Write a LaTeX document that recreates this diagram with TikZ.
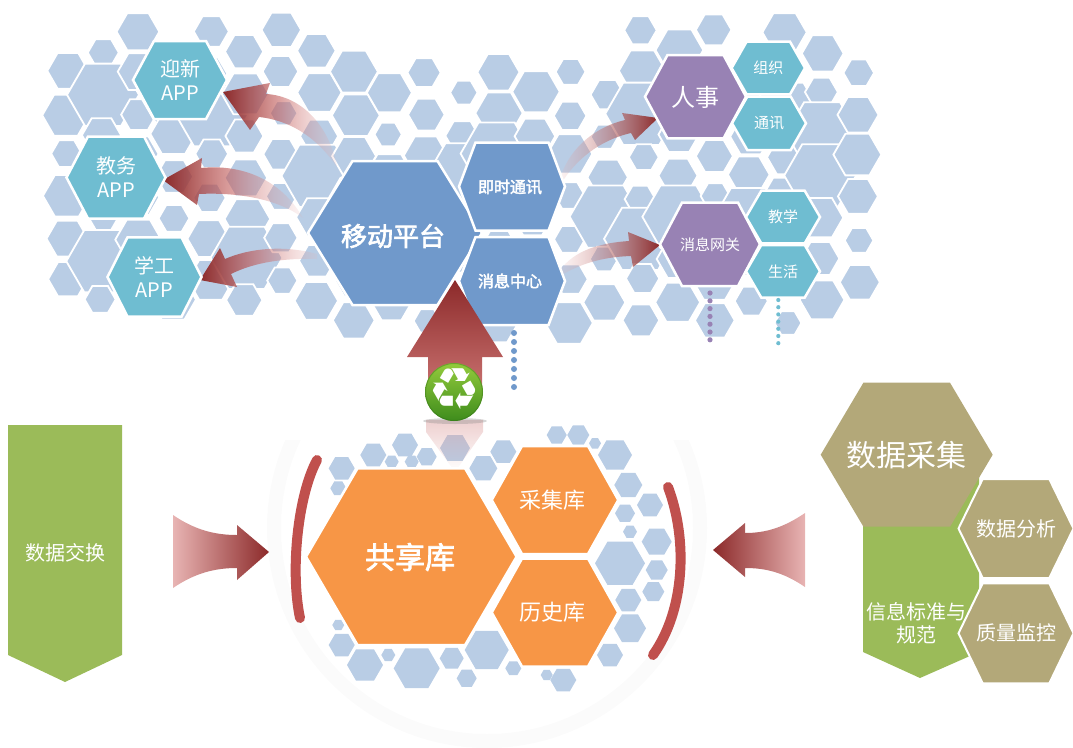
\documentclass[tikz,border=0pt]{standalone}
\usepackage{fontspec}
\setmainfont{Noto Sans CJK SC}[AutoFakeBold=2.5]
\newfontfamily\symbolfont{DejaVu Sans}
\usetikzlibrary{fadings}

\definecolor{bghexc}{HTML}{B9CDE5}
\definecolor{tealc}{HTML}{6FBDD1}
\definecolor{bluec}{HTML}{7099CB}
\definecolor{purplec}{HTML}{9882B4}
\definecolor{orangec}{HTML}{F79646}
\definecolor{greenc}{HTML}{9BBB59}
\definecolor{khakic}{HTML}{B3A879}
\definecolor{arrowdark}{HTML}{8C2A2A}
\definecolor{arrowmid}{HTML}{C45E5C}
\definecolor{arrowlight}{HTML}{E8B4B3}
\definecolor{bracketc}{HTML}{C0504D}
\definecolor{iconlight}{HTML}{93CB3C}
\definecolor{icondark}{HTML}{3E8C1C}

\tikzfading[name=fadeeast, left color=transparent!0, middle color=transparent!15, right color=transparent!85]
\tikzfading[name=fadewest, left color=transparent!85, middle color=transparent!15, right color=transparent!0]
\tikzfading[name=fadesouth, top color=transparent!30, bottom color=transparent!100]

% hexagon: style, centre x, centre y, half width, half top edge, half height
\newcommand\hexshape[6]{\filldraw[#1] (#2+#4,#3) -- (#2+#5,#3+#6) -- (#2-#5,#3+#6) -- (#2-#4,#3) -- (#2-#5,#3-#6) -- (#2+#5,#3-#6) -- cycle;}

\begin{document}
\begin{tikzpicture}[x=1pt,y=-1pt,
  bghex/.style={fill=bghexc, draw=white, line width=1.8pt},
  fg/.style={draw=white, line width=2.5pt},
  lbl/.style={text=white, align=center, inner sep=0pt},
  arrowbody/.style={left color=arrowdark, right color=arrowlight, middle color=arrowmid}]
\useasboundingbox (0,0) rectangle (1073,747);

% faint ring round the lower cluster
\begin{scope}
  \clip (250,440) rectangle (720,747);
  \draw[black!1.5, line width=14pt] (487,528) circle [radius=213];
\end{scope}

% honeycomb field behind the upper cluster
\pgfmathsetseed{20}
\foreach \i in {0,...,24}{
  \foreach \j in {0,...,8}{
    \pgfmathsetmacro\hx{30+36*\i+4*(rnd-0.5)}
    \pgfmathsetmacro\hy{10+41.6*\j+20.8*mod(\i,2)+4*(rnd-0.5)}
    \pgfmathsetmacro\ea{pow(abs(\hx-205)/162,4)+pow(abs(\hy-168)/152,4)}
    \pgfmathsetmacro\eb{pow(abs(\hx-732)/136,4)+pow(abs(\hy-178)/158,4)}
    \pgfmathsetmacro\ec{pow(abs(\hx-470)/175,4)+pow(abs(\hy-192)/136,4)}
    \pgfmathsetmacro\envmin{min(\ea,\eb,\ec)}
    \pgfmathsetmacro\pick{rnd}
    \pgfmathsetmacro\rr{(\pick<0.14)&&(\envmin<0.4) ? 36 : 24*(0.55+0.45*rnd)}
    \ifdim\envmin pt<1pt
      \filldraw[bghex, shift={(\hx,\hy)}] (0:\rr) -- (60:\rr) -- (120:\rr) -- (180:\rr) -- (240:\rr) -- (300:\rr) -- cycle;
    \fi
  }
}

% honeycomb round the lower cluster
\foreach \hx/\hy/\rr in {341.7/468.3/13, 338.3/488.3/8, 373.3/455/13, 405/445/13, 391.7/461.7/7,
  411.7/461.7/7, 426.7/456.7/10, 483.3/468.3/14, 503.3/451.7/13, 556.7/435/10, 578.3/435/11,
  595/443.3/6, 615/455/17, 628.3/485/14, 625/513.3/10, 650/505/13, 630/531.7/7, 620/563.3/25,
  656.7/541.7/15, 656.7/570/11, 653.3/591.7/11, 628.3/600/13, 630/628.3/16, 610/655/13,
  563.3/680/13, 546.7/675/6, 513.3/668.3/8, 486.7/650/22, 466.7/678.3/10, 451.7/658.3/12,
  416.7/668.3/23, 388.3/655/7, 365/665/18, 341.7/645/13, 338.3/625/6, 455/448/15}{
  \fill[fill=bghexc, shift={(\hx,\hy)}] (0:\rr) -- (60:\rr) -- (120:\rr) -- (180:\rr) -- (240:\rr) -- (300:\rr) -- cycle;
}

% mirrored arrow head under the recycling badge
\fill[arrowmid!60!white, opacity=0.7, path fading=fadesouth] (426,420) -- (483,420) -- (483,432) -- (455,472) -- (426,432) -- cycle;

% curved arrows from the mobile platform to the apps
\shade[arrowbody, path fading=fadeeast] (337,167) .. controls (320,142) and (295,121) .. (259,117) -- (250,130) -- (223,92) -- (270,83) -- (266,94) .. controls (303,96) and (330,128) .. (337,167) -- cycle;
\shade[arrowbody, path fading=fadeeast] (303,218) .. controls (280,200) and (240,192) .. (199,194) -- (197,205) -- (163,180) -- (202,158) -- (201,168) .. controls (240,164) and (280,178) .. (303,218) -- cycle;
\shade[arrowbody, path fading=fadeeast] (317,259) .. controls (285,258) and (255,262) .. (231,274) -- (237,287) -- (200,280) -- (220,248) -- (225,259) .. controls (250,248) and (285,245) .. (317,254) -- cycle;
% curved arrows to the gateways on the right
\shade[left color=arrowlight, middle color=arrowmid, right color=arrowdark, path fading=fadewest] (558,187) .. controls (565,150) and (595,127) .. (625,120) -- (622,113) -- (658,118) -- (635,140) -- (631,133) .. controls (600,140) and (575,160) .. (561,184) -- cycle;
\shade[left color=arrowlight, middle color=arrowmid, right color=arrowdark, path fading=fadewest] (560,270) .. controls (575,250) and (600,243) .. (629,241) -- (628,232) -- (660,245) -- (633,267) -- (631,256) .. controls (600,257) and (578,265) .. (560,276) -- cycle;

% upper cluster
\hexshape{fg, fill=tealc}{180}{80}{47}{26}{39}
\node[lbl, font=\fontsize{20}{24}\selectfont] (yx) at (180,80) {迎新\\APP};
\hexshape{fg, fill=tealc}{116}{177.5}{49.5}{28}{41}
\node[lbl, font=\fontsize{20}{24}\selectfont] (jw) at (116,177.5) {教务\\APP};
\hexshape{fg, fill=tealc}{154.5}{277}{47}{27}{39.7}
\node[lbl, font=\fontsize{20}{24}\selectfont] (xg) at (154.5,277) {学工\\APP};

\hexshape{fg, fill=bluec}{395}{233}{87}{42.5}{72}
\node[lbl, font=\fontsize{26}{30}\selectfont\bfseries] (mp) at (393,236) {移动平台};
\hexshape{fg, fill=bluec}{512}{186.5}{53}{36.5}{44}
\node[lbl, font=\fontsize{16}{19}\selectfont\bfseries] (im) at (510,187) {即时通讯};
\hexshape{fg, fill=bluec}{512}{281}{53}{36.5}{44}
\node[lbl, font=\fontsize{16}{19}\selectfont\bfseries] (mc) at (510,281) {消息中心};

\hexshape{fg, fill=purplec}{695.5}{96.7}{50.5}{28}{41.7}
\node[lbl, font=\fontsize{24}{28}\selectfont] (rs) at (695.5,97) {人事};
\hexshape{fg, fill=tealc}{768.3}{68}{36.7}{21.7}{26.3}
\node[lbl, font=\fontsize{15}{18}\selectfont] (zz) at (768.3,68) {组织};
\hexshape{fg, fill=tealc}{769}{123.3}{37}{21.7}{26.7}
\node[lbl, font=\fontsize{15}{18}\selectfont] (tx) at (769,123.3) {通讯};

\hexshape{fg, fill=purplec}{710}{244.3}{50}{28}{41.7}
\node[lbl, font=\fontsize{15}{18}\selectfont] (gw) at (710,244.3) {消息网关};
\hexshape{fg, fill=tealc}{783}{217}{37}{21.7}{26.3}
\node[lbl, font=\fontsize{15}{18}\selectfont] (jx) at (783,217) {教学};
\hexshape{fg, fill=tealc}{783}{271.3}{37}{21.7}{26.3}
\node[lbl, font=\fontsize{15}{18}\selectfont] (sh) at (783,271.3) {生活};

% dotted trails
\foreach \k in {0,...,6} \fill[bluec] (514,333+9*\k) circle [radius=3];
\foreach \k in {0,...,6} \fill[purplec] (710,293+7.8*\k) circle [radius=2.6];
\foreach \k in {0,...,6} \fill[tealc] (778.3,300+7.2*\k) circle [radius=2.1];

% upward arrow from the shared store
\shade[top color=arrowdark, bottom color=arrowmid!85!white] (428,398) -- (428,357) -- (407,357) -- (455,280) -- (503,357) -- (482,357) -- (482,398) -- cycle;

% recycling badge
\fill[black!45, opacity=0.35] (455,421) ellipse [x radius=32, y radius=3];
\shade[top color=iconlight, bottom color=icondark] (454,392) circle [radius=29];
\draw[icondark!80!black, opacity=0.4, line width=1pt] (454,392) circle [radius=28.5];
\node[lbl, font=\symbolfont\fontsize{58}{58}\selectfont] (rc) at (454,389) {♻};

% lower cluster
\hexshape{fg, fill=orangec}{411.3}{556.7}{105.3}{53.8}{88.3}
\node[lbl, font=\fontsize{30}{34}\selectfont\bfseries] (gx) at (410,557) {共享库};
\hexshape{fg, fill=orangec}{555}{500}{63.3}{33}{54}
\node[lbl, font=\fontsize{22}{26}\selectfont] (cj) at (552,500) {采集库};
\hexshape{fg, fill=orangec}{555}{612.5}{63.3}{33}{54}
\node[lbl, font=\fontsize{22}{26}\selectfont] (ls) at (552,612) {历史库};

% brackets round the store
\draw[bracketc, line width=10pt, line cap=round] (317,460) .. controls (298,495) and (290,570) .. (300,618);
\draw[bracketc, line width=10pt, line cap=round] (668,487) .. controls (688,540) and (685,610) .. (653,655);

% exchange banner on the left
\fill[greenc] (8,425) -- (122,425) -- (122,655) -- (65,682) -- (8,655) -- cycle;
\node[lbl, font=\fontsize{20}{24}\selectfont] (dx) at (65,553) {数据交换};
\shade[left color=arrowlight, middle color=arrowmid, right color=arrowdark] (173,515) .. controls (195,530) and (215,535) .. (237,535) -- (237,525) -- (269,552) -- (237,580) -- (237,568) .. controls (215,568) and (195,573) .. (173,588) -- cycle;

% collection block on the right
\fill[greenc] (863,470) -- (979,470) -- (979,652) -- (920,678) -- (863,652) -- cycle;
\node[lbl, font=\fontsize{20}{23}\selectfont] (bz) at (916.7,623) {信息标准与\\规范};
\hexshape{draw=none, fill=khakic}{906.7}{454.7}{86}{43.3}{72}
\node[lbl, font=\fontsize{30}{34}\selectfont] (cjj) at (906.7,455) {数据采集};
\hexshape{fg, line width=2pt, fill=khakic}{1016}{528.5}{57.5}{33.3}{49.5}
\node[lbl, font=\fontsize{20}{24}\selectfont] (fx) at (1016,528.5) {数据分析};
\hexshape{fg, line width=2pt, fill=khakic}{1016}{633.3}{57.5}{33.3}{50}
\node[lbl, font=\fontsize{20}{24}\selectfont] (jk) at (1016,633.3) {质量监控};
\shade[left color=arrowdark, middle color=arrowmid, right color=arrowlight] (805,513) .. controls (783,528) and (765,533) .. (745,533) -- (745,523) -- (713,550) -- (745,577) -- (745,568) .. controls (765,568) and (783,572) .. (805,587) -- cycle;

\end{tikzpicture}
\end{document}
